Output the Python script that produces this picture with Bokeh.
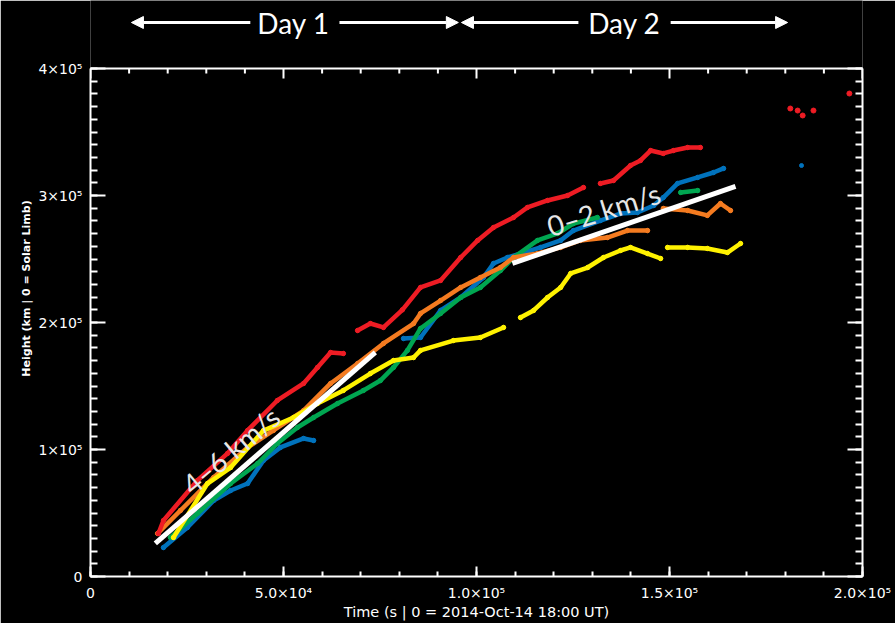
from bokeh.plotting import figure
from bokeh.models import (Range1d, FixedTicker, LinearAxis, Arrow, NormalHead,
                          Label, CustomJSTickFormatter)
from bokeh.core.properties import value
from bokeh.embed import file_html
from bokeh.resources import INLINE

nan = float("nan")

# ---------------- data (time in s, height in km) ----------------
red_t = [17.6e3, 18.9e3, 27.7e3, 35.5e3, 40.7e3, 48.4e3, 55.2e3, 58.8e3, 62.2e3, 65.5e3, nan,
         69.2e3, 72.5e3, 75.9e3, 80.8e3, 85.5e3, 90.7e3, 95.9e3, 100.3e3, 104.4e3, 109.6e3,
         113.2e3, 118.4e3, 123.6e3, 127.7e3, nan,
         132.1e3, 135.5e3, 139.9e3, 142.5e3, 145.1e3, 148.4e3, 151.0e3, 154.7e3, 158.0e3]
red_h = [33.9e3, 44.1e3, 75.6e3, 96.9e3, 115.0e3, 138.6e3, 152.0e3, 164.6e3, 176.4e3, 175.6e3, nan,
         193.7e3, 199.2e3, 196.1e3, 210.0e3, 227.6e3, 233.1e3, 251.2e3, 264.6e3, 274.8e3, 282.7e3,
         290.6e3, 296.1e3, 300.0e3, 306.3e3, nan,
         309.5e3, 311.8e3, 323.6e3, 327.6e3, 335.4e3, 333.1e3, 335.4e3, 337.8e3, 337.8e3]
red_out_t = [181.3e3, 183.2e3, 184.5e3, 187.3e3, 196.6e3]
red_out_h = [368.5e3, 366.9e3, 363.0e3, 366.9e3, 380.3e3]

orange_t = [17.4e3, 23.3e3, 31.9e3, 40.7e3, 47.4e3, 55.2e3, 62.2e3, 69.2e3, 75.9e3, 83.7e3,
            85.5e3, 90.7e3, 95.9e3, 101.0e3, 106.2e3, 109.6e3, 115.8e3, 121.8e3, 126.9e3,
            133.9e3, 139.1e3, 144.3e3, nan,
            148.4e3, 154.7e3, 159.8e3, 163.2e3, 165.8e3]
orange_h = [33.9e3, 52.0e3, 78.0e3, 101.6e3, 115.0e3, 130.7e3, 152.0e3, 167.7e3, 183.5e3, 199.2e3,
            207.1e3, 217.3e3, 227.6e3, 235.4e3, 243.3e3, 251.2e3, 254.3e3, 259.1e3, 264.6e3,
            266.9e3, 272.4e3, 272.4e3, nan,
            289.8e3, 288.2e3, 284.3e3, 293.7e3, 288.2e3]

green_t = [20.7e3, 27.7e3, 36.3e3, 43.3e3, 48.4e3, 53.6e3, 57.8e3, 64.0e3, 70.7e3, 75.1e3,
           78.5e3, 82.1e3, 85.5e3, 90.7e3, 95.9e3, 101.0e3, 106.2e3, 109.6e3, 115.8e3,
           121.0e3, 125.1e3, 131.3e3, nan, 152.9e3, 157.3e3]
green_h = [30.7e3, 49.6e3, 73.2e3, 89.0e3, 104.7e3, 117.3e3, 125.2e3, 136.2e3, 146.5e3, 154.3e3,
           164.6e3, 178.0e3, 195.3e3, 207.1e3, 219.7e3, 227.6e3, 240.9e3, 251.2e3, 264.6e3,
           270.1e3, 277.9e3, 282.7e3, nan, 302.4e3, 303.9e3]

blue_t = [18.9e3, 25.1e3, 31.9e3, 36.3e3, 40.7e3, 44.8e3, 49.2e3, 55.2e3, 57.8e3, nan,
          81.1e3, 85.5e3, 90.7e3, 95.9e3, 101.8e3, 104.4e3, 108.0e3, 116.6e3, 121.8e3,
          125.1e3, 132.1e3, 137.3e3, 141.7e3, 145.9e3, 148.4e3, 152.1e3, 157.3e3, 161.4e3, 164.0e3]
blue_h = [22.8e3, 38.6e3, 59.8e3, 67.7e3, 73.2e3, 91.3e3, 101.6e3, 108.7e3, 107.1e3, nan,
          187.4e3, 188.2e3, 209.5e3, 219.7e3, 235.4e3, 246.5e3, 251.2e3, 259.1e3, 264.6e3,
          272.4e3, 280.3e3, 285.8e3, 286.6e3, 292.1e3, 298.4e3, 309.5e3, 314.2e3, 318.1e3, 321.3e3]
blue_out_t = [184.2e3]
blue_out_h = [323.6e3]

yellow_t = [21.5e3, 30.3e3, 36.3e3, 44.8e3, 52.6e3, 58.8e3, 65.5e3, 72.5e3, 78.5e3, 83.7e3,
            85.5e3, 94.0e3, 101.0e3, 107.0e3, nan,
            111.4e3, 114.8e3, 118.4e3, 121.8e3, 124.4e3, 128.8e3, 132.9e3, 137.3e3, 139.9e3,
            144.3e3, 147.7e3, nan,
            149.5e3, 154.7e3, 159.8e3, 165.0e3, 168.4e3]
yellow_h = [30.7e3, 73.2e3, 85.8e3, 114.9e3, 125.2e3, 136.2e3, 146.5e3, 159.8e3, 170.1e3, 172.4e3,
            178.0e3, 185.8e3, 188.2e3, 196.1e3, nan,
            203.9e3, 209.5e3, 219.7e3, 227.6e3, 238.6e3, 243.3e3, 251.2e3, 256.7e3, 259.1e3,
            254.3e3, 250.4e3, nan,
            259.1e3, 259.1e3, 258.3e3, 255.1e3, 262.2e3]

# linear fits
fit1_t = [16.8e3, 73.8e3]
fit1_h = [26.0e3, 176.4e3]
fit2_t = [109.3e3, 167.1e3]
fit2_h = [246.5e3, 307.1e3]
fit_labels = ["4\u20136 km/s", "0\u20132 km/s"]
fit_label_t = [36.3e3, 132.9e3]
fit_label_h = [99.2e3, 289.0e3]
fit_label_angle = [0.70, 0.30]

# day spans (time axis), drawn in a strip above the plot box
day_labels = ["Day 1", "Day 2"]
day_center_t = [52.6e3, 138.3e3]
day_left_tip = [10.6e3, 96.1e3]
day_left_inner = [41.4e3, 126.4e3]
day_right_inner = [64.5e3, 150.3e3]
day_right_tip = [95.3e3, 180.6e3]

# ticks
x_tick_vals = [0, 50000, 100000, 150000, 200000]
x_tick_labels = ["0", "5.0\u00d710\u2074", "1.0\u00d710\u2075", "1.5\u00d710\u2075", "2.0\u00d710\u2075"]
x_minor_vals = list(range(0, 200001, 10000))
y_tick_vals = [0, 100000, 200000, 300000, 400000]
y_tick_labels = ["0", "1\u00d710\u2075", "2\u00d710\u2075", "3\u00d710\u2075", "4\u00d710\u2075"]
y_minor_vals = list(range(0, 400001, 10000))

X_MIN, X_MAX = 0, 200000
Y_MIN, Y_MAX = 0, 400000

RED = "#ee1c24"
ORANGE = "#f47b20"
GREEN = "#00a651"
BLUE = "#0072bc"
YELLOW = "#fff200"

TICK_FONT = "DejaVu Sans"

# ---------------- layout geometry (pixels) ----------------
BOX_W, BOX_H = 772, 508        # plot box
STRIP_H = 68                   # strip above the box (inside the frame)
BORDER_L, BORDER_R, BORDER_B = 90, 33, 47
ARROW_FROM_TOP = 22            # px from the top of the strip
MAJ_X, MIN_X = 10, 5           # tick lengths on horizontal edges (px)
MAJ_Y, MIN_Y = 15, 7           # tick lengths on vertical edges (px)

h_per_px = (Y_MAX - Y_MIN) / BOX_H
y_top = Y_MAX + STRIP_H * h_per_px

p = figure(frame_width=BOX_W, frame_height=BOX_H + STRIP_H,
           x_range=Range1d(X_MIN, X_MAX), y_range=Range1d(Y_MIN, y_top),
           output_backend="svg", toolbar_location=None,
           background_fill_color="black", border_fill_color="black",
           min_border_left=BORDER_L, min_border_right=BORDER_R,
           min_border_top=0, min_border_bottom=BORDER_B)
p.grid.visible = False
p.outline_line_color = None


def style_axis(ax, tin, tmin, labels=True):
    ax.axis_line_color = "white"
    ax.axis_line_width = 2
    ax.major_tick_line_color = "white"
    ax.major_tick_line_width = 2
    ax.major_tick_in = tin
    ax.major_tick_out = 0
    ax.minor_tick_line_color = "white"
    ax.minor_tick_line_width = 2
    ax.minor_tick_in = tmin
    ax.minor_tick_out = 0
    ax.major_label_text_color = "white"
    ax.major_label_text_font = TICK_FONT
    if labels:
        ax.major_label_text_font_size = "14px"
    else:
        ax.formatter = CustomJSTickFormatter(code="return ''")
        ax.major_label_text_font_size = "0px"
        ax.major_label_standoff = 0


xa = p.xaxis[0]
xa.ticker = FixedTicker(ticks=x_tick_vals, minor_ticks=x_minor_vals)
style_axis(xa, MAJ_X, MIN_X)
xa.major_label_overrides = {v: s for v, s in zip(x_tick_vals, x_tick_labels)}
xa.major_label_standoff = 8
xa.axis_label = "Time (s | 0 = 2014-Oct-14 18:00 UT)"
xa.axis_label_text_color = "white"
xa.axis_label_text_font = TICK_FONT
xa.axis_label_text_font_size = "14.5px"
xa.axis_label_text_font_style = "normal"
xa.axis_label_standoff = 0

ya = p.yaxis[0]
ya.ticker = FixedTicker(ticks=y_tick_vals, minor_ticks=y_minor_vals)
ya.bounds = (Y_MIN, Y_MAX)
style_axis(ya, MAJ_Y, MIN_Y)
ya.major_label_overrides = {v: s for v, s in zip(y_tick_vals, y_tick_labels)}
ya.major_label_standoff = 8
ya.axis_label = "Height (km | 0 = Solar Limb)"
ya.axis_label_text_color = "white"
ya.axis_label_text_font = TICK_FONT
ya.axis_label_text_font_size = "11px"
ya.axis_label_text_font_style = "bold"
ya.axis_label_standoff = 2

right_ax = LinearAxis(ticker=FixedTicker(ticks=y_tick_vals, minor_ticks=y_minor_vals),
                      bounds=(Y_MIN, Y_MAX))
style_axis(right_ax, MAJ_Y, MIN_Y, labels=False)
p.add_layout(right_ax, "right")

# top edge of the box with inward ticks
p.segment(x0=[X_MIN], y0=[Y_MAX], x1=[X_MAX], y1=[Y_MAX], line_color="white",
          line_width=2, line_cap="square")
minor_only = [v for v in x_minor_vals if v not in x_tick_vals]
p.segment(x0=x_tick_vals, y0=[Y_MAX] * len(x_tick_vals), x1=x_tick_vals,
          y1=[Y_MAX - MAJ_X * h_per_px] * len(x_tick_vals), line_color="white", line_width=2)
p.segment(x0=minor_only, y0=[Y_MAX] * len(minor_only), x1=minor_only,
          y1=[Y_MAX - MIN_X * h_per_px] * len(minor_only), line_color="white", line_width=2)

series = [(blue_t, blue_h, BLUE), (green_t, green_h, GREEN), (orange_t, orange_h, ORANGE),
          (yellow_t, yellow_h, YELLOW), (red_t, red_h, RED)]
for t, h, c in series:
    p.line(t, h, line_color=c, line_width=4.5, line_join="round", line_cap="round")
    p.scatter(t, h, size=4.5, fill_color=c, line_color=c)

p.scatter(red_out_t, red_out_h, size=5, fill_color=RED, line_color=RED)
p.scatter(blue_out_t, blue_out_h, size=4, fill_color=BLUE, line_color=BLUE)

p.line(fit1_t, fit1_h, line_color="white", line_width=5)
p.line(fit2_t, fit2_h, line_color="white", line_width=5)
p.text(fit_label_t, fit_label_h, text=fit_labels, angle=fit_label_angle,
       text_color="#e6e6e6", text_font=value("Lato"), text_font_size="28px",
       text_align="center", text_baseline="middle")

# day arrows in the strip above the box
arrow_h = y_top - ARROW_FROM_TOP * h_per_px
for lab, ct, lt, li, ri, rt in zip(day_labels, day_center_t, day_left_tip, day_left_inner,
                                    day_right_inner, day_right_tip):
    p.add_layout(Arrow(end=NormalHead(size=12, fill_color="white", line_color="white"),
                       x_start=li, y_start=arrow_h, x_end=lt, y_end=arrow_h,
                       line_color="white", line_width=3))
    p.add_layout(Arrow(end=NormalHead(size=12, fill_color="white", line_color="white"),
                       x_start=ri, y_start=arrow_h, x_end=rt, y_end=arrow_h,
                       line_color="white", line_width=3))
    p.add_layout(Label(x=ct, y=arrow_h, text=lab, text_align="center", text_baseline="middle",
                       text_color="white", text_font="Lato", text_font_size="28px"))

html = file_html(p, INLINE)
html = html.replace("<body>", "<body style=\"background-color:black;\">", 1)
open("out.html", "w").write(html)
